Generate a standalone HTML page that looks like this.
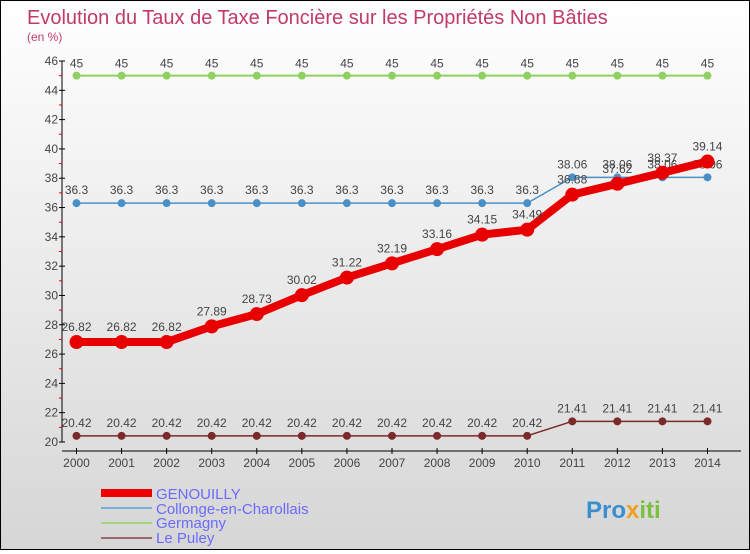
<!DOCTYPE html>
<html><head><meta charset="utf-8"><style>
body{margin:0;}
#c{width:748px;height:548px;border:1px solid #000;background:linear-gradient(#fff,#d6d6d6);position:relative;font-family:"Liberation Sans",sans-serif;}
svg text{font-family:"Liberation Sans",sans-serif;}
</style></head><body>
<div id="c">
<svg id="s" width="748" height="548" xmlns="http://www.w3.org/2000/svg">
<text x="26" y="23" font-size="20" fill="#c23a66">Evolution du Taux de Taxe Foncière sur les Propriétés Non Bâties</text>
<text x="26" y="40" font-size="12" fill="#c23a66">(en %)</text>
<g id="axes"></g><g id="series"></g>
<g>
<rect x="100" y="488" width="51" height="8" fill="#e00"/>
<text x="155" y="498" font-size="15" fill="#6a6aff">GENOUILLY</text>
<rect x="100" y="506" width="51" height="2" fill="#7aaed6"/>
<text x="155" y="513" font-size="15" fill="#6a6aff">Collonge-en-Charollais</text>
<rect x="100" y="521" width="51" height="2" fill="#9fd67f"/>
<text x="155" y="527" font-size="15" fill="#6a6aff">Germagny</text>
<rect x="100" y="536" width="51" height="2" fill="#9a6a6a"/>
<text x="155" y="542" font-size="15" fill="#6a6aff">Le Puley</text>
</g>
<text x="585" y="517" font-size="24" font-weight="bold" fill="#3a8fd0">Pro<tspan fill="#f0a020">x</tspan><tspan fill="#7cc040">iti</tspan></text>
</svg></div>
<script>
const years=[2000,2001,2002,2003,2004,2005,2006,2007,2008,2009,2010,2011,2012,2013,2014];
const genouilly=[26.82,26.82,26.82,27.89,28.73,30.02,31.22,32.19,33.16,34.15,34.49,36.88,37.62,38.37,39.14];
const collonge=[36.3,36.3,36.3,36.3,36.3,36.3,36.3,36.3,36.3,36.3,36.3,38.06,38.06,38.06,38.06];
const germagny=[45,45,45,45,45,45,45,45,45,45,45,45,45,45,45];
const lePuley=[20.42,20.42,20.42,20.42,20.42,20.42,20.42,20.42,20.42,20.42,20.42,21.41,21.41,21.41,21.41];
const yTicks=[20,22,24,26,28,30,32,34,36,38,40,42,44,46];
const NS="http://www.w3.org/2000/svg";
function X(i){return 75.5+i*45.07;}
function Y(v){return 441-(v-20)*381/26;}
function mk(t,a,p){const e=document.createElementNS(NS,t);for(const k in a)e.setAttribute(k,a[k]);p.appendChild(e);return e;}
const ax=document.getElementById('axes'),sr=document.getElementById('series');
let e=mk('line',{x1:61,y1:60,x2:61,y2:441,stroke:'#000'},ax);


e=mk('line',{x1:61,y1:450,x2:740,y2:450,stroke:'#000'},ax);


yTicks.forEach(v=>{mk('line',{x1:58,y1:Y(v),x2:64,y2:Y(v),stroke:'#000'},ax);
 if(v<46)mk('line',{x1:58,y1:Y(v+1),x2:61,y2:Y(v+1),stroke:'#e00'},ax);
 const t=mk('text',{x:57,y:Y(v)+4,'font-size':12,fill:'#444','text-anchor':'end'},ax);t.textContent=v;
 
 });
years.forEach((y,i)=>{mk('line',{x1:X(i),y1:447,x2:X(i),y2:453,stroke:'#000'},ax);
 const t=mk('text',{x:X(i),y:466,'font-size':12,fill:'#444','text-anchor':'middle'},ax);t.textContent=y;
 
 });
function series(d,col,w,r,name,dy){
 const g=mk('g',{},sr);
 
 
 mk('polyline',{points:d.map((v,i)=>X(i)+','+Y(v)).join(' '),fill:'none',stroke:col,'stroke-width':w,'stroke-linejoin':'round'},g);
 d.forEach((v,i)=>{const c=mk('circle',{cx:X(i),cy:Y(v),r:r,fill:col},g);
  
  
  const t=mk('text',{x:X(i),y:Y(v)-dy,'font-size':12,fill:'#444','text-anchor':'middle'},g);t.textContent=v;});
}
series(germagny,'#8fd060',2,4,'germagny',8);
series(collonge,'#4a90c8',1.5,4,'collonge',9);
series(lePuley,'#7a2a2a',1.5,4,'le-puley',9);
series(genouilly,'#e80000',8,7,'genouilly',11);
</script>
</body></html>
